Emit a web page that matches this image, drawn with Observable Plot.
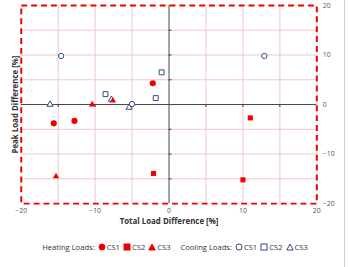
<!DOCTYPE html>
<html><head><meta charset="utf-8">
<script src="https://cdn.jsdelivr.net/npm/d3@7"></script>
<script src="https://cdn.jsdelivr.net/npm/@observablehq/plot@0.6"></script>
<style>
html,body{margin:0;padding:0;background:#fff;}
#wrap{width:344px;height:267px;border-right:1px solid #ccc;position:relative;overflow:hidden;font-family:"Open Sans","Liberation Sans",sans-serif;}
#legend{position:absolute;left:0;width:350px;top:242px;text-align:center;font-size:7.6px;color:#333;white-space:nowrap;}
#legend svg{vertical-align:-1px;margin:0 1px 0 3px;}
</style></head>
<body><div id="wrap"><div id="chart"></div><div id="legend"></div></div>
<script>
// Heating loads (filled, red)
const heatCS1 = [[-2.2, 4.3], [-15.6, -3.8], [-12.8, -3.3]];
const heatCS2 = [[11.0, -2.7], [-2.1, -13.9], [10.0, -15.2]];
const heatCS3 = [[-10.4, 0.0], [-7.6, 0.8], [-15.3, -14.5]];
// Cooling loads (open, navy)
const coolCS1 = [[-14.6, 9.8], [12.9, 9.8], [-5.0, 0.1]];
const coolCS2 = [[-1.0, 6.5], [-1.8, 1.3], [-8.6, 2.1]];
const coolCS3 = [[-16.1, 0.0], [-7.8, 1.0], [-5.4, -0.6]];
const xTicks = [-20, -10, 0, 10, 20];
const yTicks = [-20, -10, 0, 10, 20];
const gridTicks = [-15, -10, -5, 5, 10, 15];

const red = "#ee0000", navy = "#2f4b7c";
const toObj = a => a.map(([x, y]) => ({x, y}));

const chart = Plot.plot({
  width: 348, height: 232,
  marginLeft: 21, marginRight: 28, marginTop: 5, marginBottom: 26.5,
  style: {fontFamily: "'Open Sans','Liberation Sans',sans-serif", fontSize: "7px", color: "#555"},
  x: {domain: [-20, 20]},
  y: {domain: [-20, 20]},
  marks: [
    Plot.gridX(gridTicks, {stroke: "#efc6cb", strokeOpacity: 1}),
    Plot.gridY(gridTicks, {stroke: "#efc6cb", strokeOpacity: 1}),
    Plot.ruleX([0], {stroke: "#444", strokeWidth: 1}),
    Plot.ruleY([0], {stroke: "#444", strokeWidth: 1}),
    Plot.ruleX(gridTicks, {x: d => d, y1: 0, y2: -0.6, stroke: "#444"}),
    Plot.ruleY(gridTicks, {y: d => d, x1: 0, x2: 0.4, stroke: "#444"}),
    Plot.axisX(xTicks, {anchor: "bottom", tickSize: 0, tickPadding: 4, label: null, fill: "#555"}),
    Plot.axisY(yTicks, {anchor: "right", tickSize: 0, tickPadding: 6, label: null, fill: "#555"}),
    Plot.text(["Total Load Difference [%]"], {frameAnchor: "bottom", dy: 21, fontWeight: "bold", fontSize: 8, fill: "#333"}),
    Plot.text(["Peak Load Difference [%]"], {frameAnchor: "left", dx: -6, rotate: -90, textAnchor: "middle", fontWeight: "bold", fontSize: 8, fill: "#333"}),
    Plot.frame({stroke: red, strokeWidth: 2, strokeDasharray: "6,4", inset: 0}),
    Plot.dot(toObj(coolCS1), {x: "x", y: "y", symbol: "circle", r: 2.7, stroke: navy, fill: "white", strokeWidth: 1}),
    Plot.dot(toObj(coolCS2), {x: "x", y: "y", symbol: "square", r: 2.8, stroke: navy, fill: "white", strokeWidth: 1}),
    Plot.dot(toObj(coolCS3), {x: "x", y: "y", symbol: "triangle", r: 2.3, stroke: navy, fill: "white", strokeWidth: 1}),
    Plot.dot(toObj(heatCS1), {x: "x", y: "y", symbol: "circle", r: 3.1, fill: red, stroke: "none"}),
    Plot.dot(toObj(heatCS2), {x: "x", y: "y", symbol: "square", r: 2.9, fill: red, stroke: "none"}),
    Plot.dot(toObj(heatCS3), {x: "x", y: "y", symbol: "triangle", r: 2.4, fill: red, stroke: "none"})
  ]
});
document.getElementById("chart").appendChild(chart);

const sym = (shape, filled) => {
  const c = filled ? red : navy;
  const f = filled ? red : "white";
  let s;
  if (shape === "circle") s = `<circle cx="4" cy="4" r="3" fill="${f}" stroke="${c}" stroke-width="1"/>`;
  else if (shape === "square") s = `<rect x="1" y="1" width="6" height="6" fill="${f}" stroke="${c}" stroke-width="1"/>`;
  else s = `<path d="M4,1 L7.2,7 L0.8,7 Z" fill="${f}" stroke="${c}" stroke-width="1"/>`;
  return `<svg width="8" height="8">${s}</svg>`;
};
const series = ["CS1", "CS2", "CS3"];
const shapes = ["circle", "square", "triangle"];
document.getElementById("legend").innerHTML =
  "Heating Loads:" + series.map((s, i) => sym(shapes[i], true) + s).join("") +
  "&nbsp;&nbsp;&nbsp;&nbsp;&nbsp;Cooling Loads:" + series.map((s, i) => sym(shapes[i], false) + s).join("");
</script></body></html>
